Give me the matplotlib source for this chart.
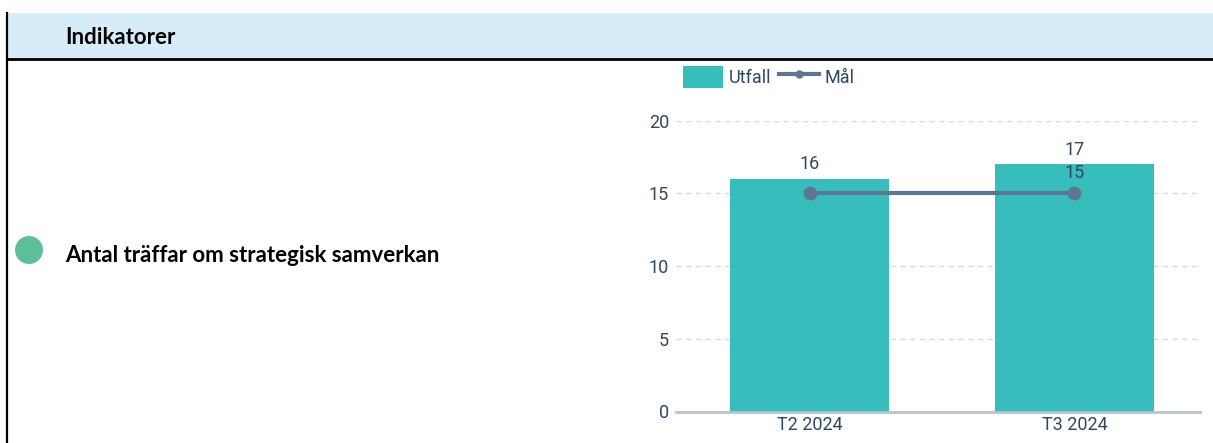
import matplotlib.pyplot as plt
from matplotlib.patches import Rectangle, Ellipse, Patch
from matplotlib.lines import Line2D

periods = ["T2 2024", "T3 2024"]
utfall = [16, 17]
mal = [15, 15]
yticks = [0, 5, 10, 15, 20]

W, H = 1213, 443
fig = plt.figure(figsize=(W / 100, H / 100), dpi=100)

def fx(px):
    return px / W

def fy(py):
    return 1 - py / H

# table header band and borders
fig.patches.append(Rectangle((fx(7), fy(58)), 1 - fx(7), fy(13) - fy(58),
                             transform=fig.transFigure, facecolor="#D6EDF9",
                             edgecolor="none", zorder=0))
fig.lines.append(Line2D([fx(7), 1], [fy(59), fy(59)], transform=fig.transFigure,
                        color="black", linewidth=2))
fig.lines.append(Line2D([fx(7), fx(7)], [fy(13), 0], transform=fig.transFigure,
                        color="black", linewidth=1.6))
fig.text(fx(65), fy(37), "Indikatorer", family="Lato", weight="bold",
         fontsize=16, va="center", ha="left", color="black")

# indicator row
fig.patches.append(Ellipse((fx(29), fy(250)), 28 / W, 28 / H, transform=fig.transFigure,
                           facecolor="#5CBF99", edgecolor="none"))
fig.text(fx(65), fy(255), "Antal träffar om strategisk samverkan", family="Lato",
         weight="bold", fontsize=16, va="center", ha="left", color="black")

# chart
text_col = "#2F4763"
bar_col = "#38BDBD"
line_col = "#5B7890"

ax = fig.add_axes([fx(676), fy(411.5), fx(1200) - fx(676), fy(120.7) - fy(411.5)])
x = list(range(len(periods)))
ax.bar(x, utfall, width=0.6, color=bar_col, zorder=2)
ax.plot(x, mal, color=line_col, linewidth=3, marker="o", markersize=9, zorder=3)

for xi, v in zip(x, utfall):
    ax.text(xi, v + 0.4, str(v), ha="center", va="bottom", fontsize=13,
            family="Roboto", color=text_col)
ax.text(x[-1], mal[-1] + 0.75, str(mal[-1]), ha="center", va="bottom", fontsize=13,
        family="Roboto", color=text_col)

ax.set_xlim(-0.504, len(periods) - 0.526)
ax.set_ylim(0, 20)
ax.set_yticks(yticks)
ax.set_xticks(x)
ax.set_xticklabels(periods)
ax.grid(axis="y", linestyle=(0, (4, 3)), color="#D3DAE0", linewidth=1, zorder=0)
ax.set_axisbelow(True)
for s in ["top", "right", "left"]:
    ax.spines[s].set_visible(False)
ax.spines["bottom"].set_color("#B8C5CF")
ax.spines["bottom"].set_linewidth(2)
ax.tick_params(axis="both", length=0, labelsize=13, labelcolor=text_col)
ax.tick_params(axis="y", pad=5)
ax.tick_params(axis="x", pad=3)
for lbl in ax.get_xticklabels() + ax.get_yticklabels():
    lbl.set_family("Roboto")

handles = [Patch(facecolor=bar_col, edgecolor="none"),
           Line2D([0], [0], color=line_col, linewidth=3, marker="o", markersize=5)]
fig.legend(handles, ["Utfall", "Mål"], loc="center left",
           bbox_to_anchor=(fx(667), fy(77)), ncol=2, frameon=False,
           handlelength=2.2, handleheight=1.5, handletextpad=0.3,
           columnspacing=0.45, prop={"family": "Roboto", "size": 13},
           labelcolor=text_col)

fig.savefig("out.png", dpi=100)
